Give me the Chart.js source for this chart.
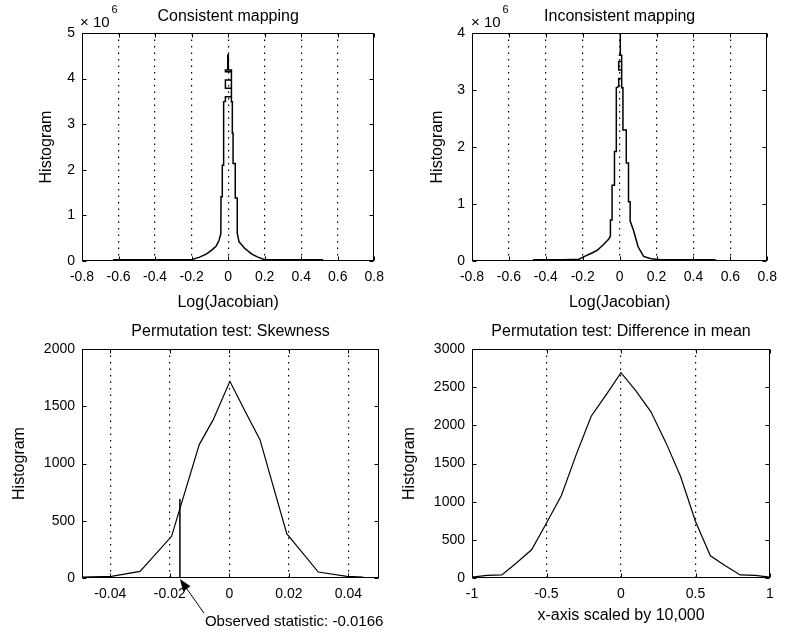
<!DOCTYPE html>
<html lang="en">
<head>
<meta charset="UTF-8">
<title>Log(Jacobian) histograms and permutation tests</title>
<script src="https://cdn.jsdelivr.net/npm/chart.js@4"></script>
<style>
    html, body { margin: 0; padding: 0; background: #fff; }
    #fig { position: relative; width: 785px; height: 634px; overflow: hidden; background: #fff; }
    .panel { position: absolute; }
    #p1 { left: 0; top: 0; width: 392px; height: 320px; }
    #p2 { left: 390px; top: 0; width: 395px; height: 320px; }
    #p3 { left: 0; top: 310px; width: 400px; height: 324px; }
    #p4 { left: 390px; top: 310px; width: 395px; height: 324px; }
</style>
</head>
<body>
<div id="fig">
    <div class="panel" id="p1"><canvas id="c1"></canvas></div>
    <div class="panel" id="p2"><canvas id="c2"></canvas></div>
    <div class="panel" id="p3"><canvas id="c3"></canvas></div>
    <div class="panel" id="p4"><canvas id="c4"></canvas></div>
</div>
<script>
// Histogram of Log(Jacobian), consistent mapping (counts in units of 10^6)
const consistentX = [-0.63, -0.4, -0.2, -0.16, -0.12, -0.09, -0.065, -0.05, -0.04, -0.039, -0.032, -0.032, -0.028, -0.028, -0.023, -0.023,
    -0.015, -0.015, 0.018, 0.018, -0.015, -0.015, 0.018, 0.018, -0.015, -0.015, -0.002, -0.002, 0.001, 0.001, 0.018, 0.018,
    0.023, 0.023, 0.027, 0.027, 0.039, 0.039, 0.05, 0.05, 0.06, 0.09, 0.13, 0.16, 0.2, 0.35, 0.52];
const consistentY = [0.025, 0.025, 0.03, 0.08, 0.15, 0.24, 0.33, 0.45, 0.6, 1.41, 1.41, 2.1, 2.1, 2.8, 2.8, 3.49,
    3.5, 3.6, 3.6, 3.79, 3.79, 3.97, 3.97, 4.15, 4.15, 4.19, 4.19, 4.52, 4.52, 4.19, 4.19, 3.49,
    3.49, 2.8, 2.8, 2.14, 2.14, 1.38, 1.38, 0.6, 0.42, 0.28, 0.15, 0.09, 0.03, 0.025, 0.025];

// Histogram of Log(Jacobian), inconsistent mapping (counts in units of 10^6)
const inconsistentX = [-0.47, -0.3, -0.22, -0.19, -0.15, -0.12, -0.09, -0.06, -0.051, -0.05, -0.041, -0.041, -0.028, -0.028, -0.018, -0.018,
    -0.005, -0.005, 0.011, 0.011, -0.005, -0.005, 0.011, 0.011, -0.005, -0.005, 0.003, 0.003, 0.004, 0.004, 0.011, 0.011,
    0.018, 0.018, 0.036, 0.036, 0.048, 0.048, 0.057, 0.057, 0.075, 0.1, 0.13, 0.17, 0.22, 0.35, 0.52];
const inconsistentY = [0.02, 0.02, 0.03, 0.08, 0.14, 0.19, 0.28, 0.38, 0.43, 0.72, 0.72, 1.33, 1.33, 1.92, 1.92, 3.04,
    3.06, 3.2, 3.2, 3.35, 3.35, 3.5, 3.5, 3.61, 3.61, 3.61, 3.61, 4.6, 4.6, 3.61, 3.61, 3.04,
    3.04, 2.3, 2.3, 1.72, 1.72, 1.04, 1.04, 0.7, 0.54, 0.25, 0.08, 0.04, 0.02, 0.02, 0.02];

// Permutation test: skewness
const skewX = [-0.0495, -0.0396, -0.030, -0.0194, -0.0101, -0.0054, 0.0002, 0.0053, 0.0103, 0.0193, 0.0299, 0.0395, 0.045];
const skewY = [8, 15, 58, 364, 1165, 1383, 1718, 1456, 1208, 387, 52, 15, 8];
const observedStat = -0.0166;
const observedTop = 690;

// Permutation test: difference in mean (x scaled by 10,000)
const diffX = [-1, -0.9, -0.8, -0.7, -0.6, -0.5, -0.4, -0.3, -0.2, -0.1, 0, 0.1, 0.2, 0.3, 0.4, 0.5, 0.6, 0.7, 0.8, 0.9, 1];
const diffY = [12, 35, 40, 200, 370, 720, 1080, 1620, 2120, 2400, 2690, 2450, 2180, 1780, 1330, 740, 290, 160, 40, 35, 12];

// Ticks
const jacTicks = [-0.8, -0.6, -0.4, -0.2, 0, 0.2, 0.4, 0.6, 0.8];
const jacTickLabels = ['-0.8', '-0.6', '-0.4', '-0.2', '0', '0.2', '0.4', '0.6', '0.8'];
const consistentYTicks = [0, 1, 2, 3, 4, 5];
const inconsistentYTicks = [0, 1, 2, 3, 4];
const skewTicks = [-0.04, -0.02, 0, 0.02, 0.04];
const skewTickLabels = ['-0.04', '-0.02', '0', '0.02', '0.04'];
const skewYTicks = [0, 500, 1000, 1500, 2000];
const diffTicks = [-1, -0.5, 0, 0.5, 1];
const diffTickLabels = ['-1', '-0.5', '0', '0.5', '1'];
const diffYTicks = [0, 500, 1000, 1500, 2000, 2500, 3000];

const FAMILY = "'Liberation Sans', Arial, Helvetica, sans-serif";
const TICK_FONT = { family: FAMILY, size: 14 };
const LABEL_FONT = { family: FAMILY, size: 16 };
const TICK_LEN = 4;

const toPoints = (xs, ys) => xs.map((x, i) => ({ x: x, y: ys[i] }));

// MATLAB-ish decorations: box, inward ticks, title, exponent, annotation
const matlabAxes = {
    id: 'matlab',
    afterDraw(chart, args, o) {
        const ctx = chart.ctx;
        const a = chart.chartArea;
        const xs = chart.scales.x, ys = chart.scales.y;
        const L = Math.round(a.left) + 0.5, R = Math.round(a.right) - 0.5;
        const T = Math.round(a.top) + 0.5, B = Math.round(a.bottom) - 0.5;
        ctx.save();
        ctx.strokeStyle = '#000';
        ctx.lineWidth = 1;
        ctx.setLineDash([]);
        ctx.beginPath();
        xs.ticks.forEach(t => {
            const px = Math.round(xs.getPixelForValue(t.value)) + 0.5;
            ctx.moveTo(px, B); ctx.lineTo(px, B - TICK_LEN);
            ctx.moveTo(px, T); ctx.lineTo(px, T + TICK_LEN);
        });
        ys.ticks.forEach(t => {
            const py = Math.round(ys.getPixelForValue(t.value)) + 0.5;
            ctx.moveTo(L, py); ctx.lineTo(L + TICK_LEN, py);
            ctx.moveTo(R, py); ctx.lineTo(R - TICK_LEN, py);
        });
        ctx.stroke();
        ctx.strokeRect(L, T, R - L, B - T);

        ctx.fillStyle = '#000';
        ctx.textBaseline = 'alphabetic';
        if (o.title) {
            ctx.font = '16px ' + FAMILY;
            ctx.textAlign = 'center';
            ctx.fillText(o.title, (a.left + a.right) / 2, o.titleY);
        }
        if (o.exponent) {
            ctx.font = '15px ' + FAMILY;
            ctx.textAlign = 'left';
            const base = '\u00d7 10';
            const x0 = a.left + o.exponentDx;
            ctx.fillText(base, x0, 27);
            const w = ctx.measureText(base).width;
            ctx.font = '11px ' + FAMILY;
            ctx.fillText(o.exponent, x0 + w + 2, 13);
        }
        if (o.observed !== undefined) {
            const tipX = xs.getPixelForValue(o.observed);
            const tipY = a.bottom + 1;
            const tailX = tipX + 24, tailY = tipY + 34;
            const dx = tailX - tipX, dy = tailY - tipY, len = Math.hypot(dx, dy);
            const ux = dx / len, uy = dy / len;
            ctx.beginPath();
            ctx.moveTo(tipX + ux * 10, tipY + uy * 10);
            ctx.lineTo(tailX, tailY);
            ctx.stroke();
            ctx.beginPath();
            ctx.moveTo(tipX, tipY);
            ctx.lineTo(tipX + ux * 12 - uy * 4.5, tipY + uy * 12 + ux * 4.5);
            ctx.lineTo(tipX + ux * 12 + uy * 4.5, tipY + uy * 12 - ux * 4.5);
            ctx.closePath();
            ctx.fill();
            ctx.font = '15px ' + FAMILY;
            ctx.textAlign = 'left';
            ctx.fillText(o.observedText, tailX + 1, tailY + 13);
        }
        ctx.restore();
    }
};

function panel(id, cfg) {
    return new Chart(document.getElementById(id), {
        type: 'scatter',
        data: { datasets: cfg.datasets },
        options: {
            responsive: true,
            maintainAspectRatio: false,
            animation: false,
            layout: { padding: cfg.padding },
            elements: { point: { radius: 0 }, line: { tension: 0 } },
            plugins: {
                legend: { display: false },
                tooltip: { enabled: false },
                matlab: cfg.deco
            },
            scales: {
                x: {
                    type: 'linear',
                    min: cfg.xMin,
                    max: cfg.xMax,
                    afterBuildTicks: s => { s.ticks = cfg.xTicks.map(v => ({ value: v })); },
                    afterFit: s => { s.height = cfg.xHeight; },
                    ticks: {
                        callback: (v, i) => cfg.xLabels[i],
                        padding: 8, maxRotation: 0, autoSkip: false,
                        color: '#000', font: TICK_FONT
                    },
                    grid: {
                        // no dotted line on top of the box edges
                        color: c => (c.tick && (c.tick.value <= cfg.xMin || c.tick.value >= cfg.xMax)) ? 'rgba(0,0,0,0)' : '#000',
                        lineWidth: 1.2, drawTicks: false
                    },
                    border: { display: false, dash: [1.5, 5] },
                    title: {
                        display: !!cfg.xTitle,
                        text: cfg.xTitle || '',
                        color: '#000', font: LABEL_FONT, padding: 0
                    }
                },
                y: {
                    type: 'linear',
                    min: cfg.yTicks[0],
                    max: cfg.yTicks[cfg.yTicks.length - 1],
                    afterBuildTicks: s => { s.ticks = cfg.yTicks.map(v => ({ value: v })); },
                    afterFit: s => { s.width = cfg.yWidth; },
                    ticks: {
                        callback: v => String(v),
                        padding: 7, autoSkip: false,
                        color: '#000', font: TICK_FONT
                    },
                    grid: { display: false, drawTicks: false },
                    border: { display: false },
                    title: { display: true, text: 'Histogram', color: '#000', font: LABEL_FONT, padding: 0 }
                }
            }
        },
        plugins: [matlabAxes]
    });
}

const lineStyle = w => ({ showLine: true, borderColor: '#000', backgroundColor: '#000', borderWidth: w, pointRadius: 0, fill: false });

panel('c1', {
    datasets: [Object.assign({ data: toPoints(consistentX, consistentY) }, lineStyle(1.5))],
    padding: { left: 37, right: 13, top: 33, bottom: 8 },
    yWidth: 45, xHeight: 51,
    xMin: -0.8, xMax: 0.8, xTicks: jacTicks, xLabels: jacTickLabels,
    yTicks: consistentYTicks, xTitle: 'Log(Jacobian)',
    deco: { title: 'Consistent mapping', titleY: 21, exponent: '6', exponentDx: -2 }
});

panel('c2', {
    datasets: [Object.assign({ data: toPoints(inconsistentX, inconsistentY) }, lineStyle(1.5))],
    padding: { left: 38, right: 15, top: 33, bottom: 8 },
    yWidth: 44, xHeight: 51,
    xMin: -0.8, xMax: 0.8, xTicks: jacTicks, xLabels: jacTickLabels,
    yTicks: inconsistentYTicks, xTitle: 'Log(Jacobian)',
    deco: { title: 'Inconsistent mapping', titleY: 21, exponent: '6', exponentDx: -1 }
});

panel('c3', {
    datasets: [
        Object.assign({ data: toPoints(skewX, skewY) }, lineStyle(1.2)),
        Object.assign({ data: [{ x: observedStat, y: 0 }, { x: observedStat, y: observedTop }] }, lineStyle(1.5))
    ],
    padding: { left: 10, right: 21, top: 39, bottom: 26 },
    yWidth: 72, xHeight: 30,
    xMin: -0.0495, xMax: 0.0503, xTicks: skewTicks, xLabels: skewTickLabels,
    yTicks: skewYTicks,
    deco: { title: 'Permutation test: Skewness', titleY: 26, observed: observedStat, observedText: 'Observed statistic: -0.0166' }
});

panel('c4', {
    datasets: [Object.assign({ data: toPoints(diffX, diffY) }, lineStyle(1.2))],
    padding: { left: 10, right: 15, top: 39, bottom: 9 },
    yWidth: 72, xHeight: 47,
    xMin: -1, xMax: 1, xTicks: diffTicks, xLabels: diffTickLabels,
    yTicks: diffYTicks, xTitle: 'x-axis scaled by 10,000',
    deco: { title: 'Permutation test: Difference in mean', titleY: 26 }
});
</script>
</body>
</html>
